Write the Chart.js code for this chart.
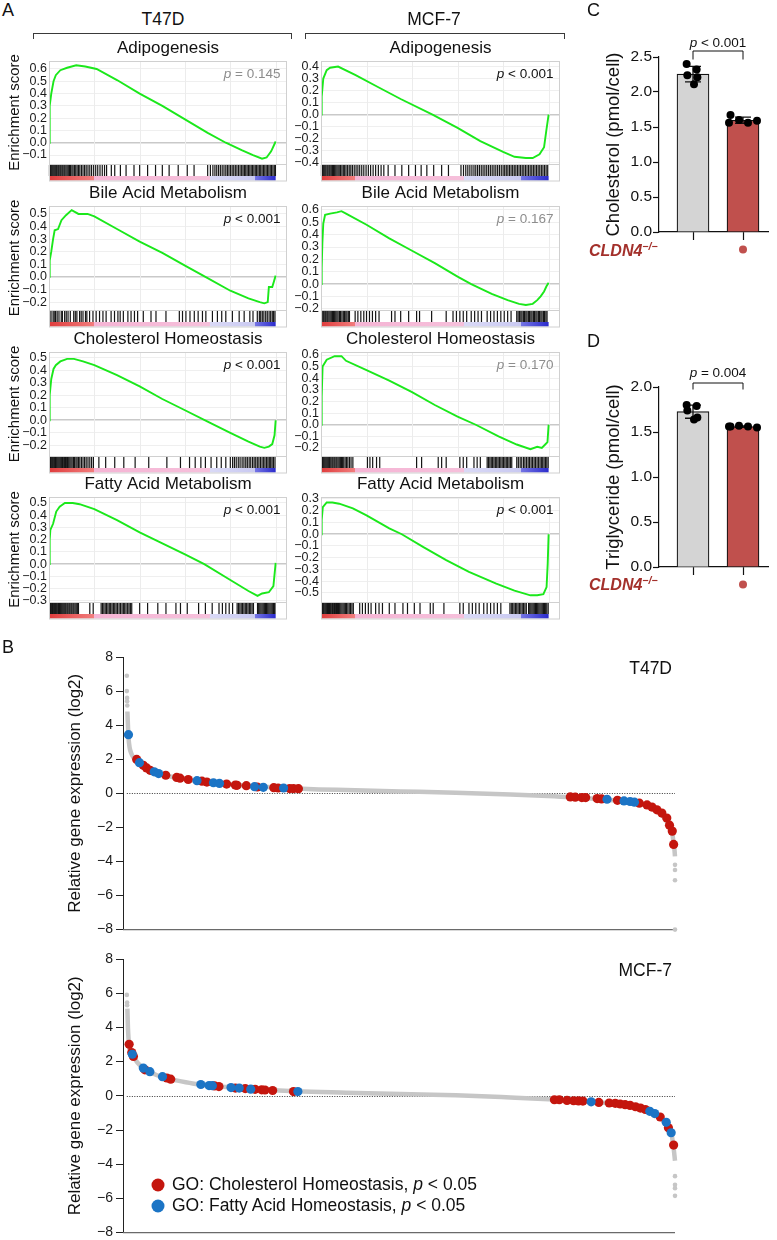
<!DOCTYPE html>
<html>
<head>
<meta charset="utf-8">
<title>CLDN4 lipid metabolism</title>
<script src="https://cdn.jsdelivr.net/npm/chart.js@4.4.1/dist/chart.umd.min.js"></script>
<style>
html, body { margin: 0; padding: 0; background: #fff; }
body { position: relative; width: 777px; height: 1240px; overflow: hidden;
  font-family: "Liberation Sans", Arial, Helvetica, sans-serif; color: #111; }
canvas { position: absolute; }
.t { position: absolute; white-space: nowrap; line-height: 1; }
.mid { transform: translate(-50%, -50%); }
.vmid { transform: translateY(-50%); }
.rmid { transform: translate(-100%, -50%); }
.letter { font-size: 18px; }
.head { font-size: 17.5px; }
.pv { font-size: 13.5px; }
.ns { color: #8d8d8d; }
.brk { position: absolute; height: 5px; border: 1px solid #3a3a3a; border-bottom: none; }
.geno { font-size: 16px; font-weight: bold; font-style: italic; color: #a3302b; }
.geno sup { font-size: 10.5px; vertical-align: 6px; }
.leg { font-size: 17.5px; }
.dot { position: absolute; width: 13px; height: 13px; border-radius: 50%; transform: translate(-50%, -50%); }
</style>
</head>
<body>
<script>
// ---------------- Panel A: GSEA running enrichment score (x = position in ranked list, %) ----------------
const adipoT47D_rank = [0, 0.3, 1, 2, 3, 5, 8, 12, 16, 21, 30, 40, 50, 60, 70, 78, 85, 90, 94, 96, 98, 100];
const adipoT47D_es   = [0, 0.30, 0.40, 0.50, 0.55, 0.59, 0.61, 0.63, 0.62, 0.60, 0.51, 0.40, 0.30, 0.19, 0.08, 0.00, -0.06, -0.10, -0.13, -0.12, -0.07, 0.01];
const adipoMCF7_rank = [0, 0.3, 1, 2.5, 4, 7.5, 15, 25, 35, 49, 60, 70, 80, 85, 90, 93, 96, 98, 99, 100];
const adipoMCF7_es   = [0, 0.15, 0.30, 0.37, 0.39, 0.40, 0.33, 0.23, 0.13, 0, -0.11, -0.22, -0.31, -0.35, -0.36, -0.36, -0.33, -0.27, -0.13, 0];
const bileT47D_rank  = [0, 0.3, 1, 1.8, 2.5, 4, 5.5, 7.5, 10, 13, 17, 20, 30, 40, 50, 60, 69, 80, 88, 93, 95, 96.5, 97, 98.5, 100];
const bileT47D_es    = [0, 0.13, 0.20, 0.30, 0.37, 0.38, 0.45, 0.49, 0.53, 0.50, 0.50, 0.48, 0.38, 0.28, 0.19, 0.09, 0, -0.11, -0.17, -0.20, -0.21, -0.20, -0.08, -0.08, 0.01];
const bileMCF7_rank  = [0, 0.3, 0.6, 1, 1.8, 4, 7, 9, 11, 20, 30, 40, 50, 60, 66, 75, 82, 87, 90, 93, 95, 96.5, 98, 99, 100];
const bileMCF7_es    = [0, 0.13, 0.33, 0.49, 0.56, 0.57, 0.58, 0.59, 0.57, 0.48, 0.37, 0.27, 0.17, 0.06, 0, -0.08, -0.13, -0.16, -0.17, -0.16, -0.13, -0.10, -0.06, -0.02, 0.01];
const cholT47D_rank  = [0, 0.3, 1, 2, 3, 5, 8, 11, 15, 20, 30, 40, 50, 60, 70, 80, 88, 93, 95, 97, 98.5, 99.5, 100];
const cholT47D_es    = [0, 0.20, 0.33, 0.41, 0.44, 0.47, 0.49, 0.49, 0.47, 0.44, 0.36, 0.27, 0.17, 0.08, -0.01, -0.10, -0.17, -0.21, -0.22, -0.21, -0.19, -0.12, 0];
const cholMCF7_rank  = [0, 0.3, 0.7, 2.5, 6, 9, 11, 20, 30, 40, 50, 60, 68, 78, 86, 92, 95, 97, 98.5, 99.5, 100];
const cholMCF7_es    = [0, 0.24, 0.50, 0.56, 0.59, 0.59, 0.55, 0.47, 0.38, 0.28, 0.17, 0.07, 0, -0.10, -0.17, -0.21, -0.19, -0.20, -0.17, -0.15, 0];
const fattyT47D_rank = [0, 0.3, 0.6, 1.8, 3.2, 4.7, 7, 10.5, 13.5, 20, 30, 40, 50, 60, 68.5, 80, 88, 92, 94, 97, 99, 100];
const fattyT47D_es   = [0, 0.20, 0.28, 0.33, 0.43, 0.47, 0.50, 0.50, 0.49, 0.45, 0.36, 0.26, 0.17, 0.08, 0, -0.13, -0.22, -0.26, -0.24, -0.23, -0.18, 0.01];
const fattyMCF7_rank = [0, 0.3, 0.8, 2.5, 5, 8, 14, 20, 30, 35.5, 45, 55, 65, 77, 85, 92, 95, 97.7, 99.1, 99.6, 100];
const fattyMCF7_es   = [0, 0.12, 0.23, 0.27, 0.27, 0.26, 0.22, 0.16, 0.05, 0, -0.11, -0.22, -0.32, -0.42, -0.48, -0.52, -0.52, -0.51, -0.45, -0.25, 0];

// gene-set hits along the ranked list (%)
const adipoT47D_hits = [0.2,0.6,1,1.4,1.8,2.2,2.6,3,3.4,3.9,4.3,4.8,5.2,5.7,6.1,6.6,7,7.5,8,8.5,9,9.5,10.1,10.6,11.2,11.8,12.4,13,13.6,14.3,15,15.7,16.4,17.2,18,18.8,19.7,20.6,21.5,22.5,23.5,24.5,25.4,27.5,29,31.5,34,37.5,40,43.5,47,50,53,57,61,64,70,71.2,72.3,73.2,74,74.8,75.6,76.4,77.2,78,78.7,79.4,80.1,80.8,81.5,82.2,82.9,83.6,84.3,85,85.6,86.2,86.8,87.4,88,88.6,89.2,89.8,90.4,91,91.6,92.2,92.8,93.4,94,94.6,95.2,95.8,96.4,97,97.6,98.2,98.8,99.4,99.9];
const adipoMCF7_hits = [0.2,0.6,1,1.4,1.8,2.2,2.7,3.1,3.6,4,4.5,5,5.5,6,6.5,7,7.5,8,8.6,9.2,9.8,10.4,11,11.7,12.4,13.1,13.8,14.6,15.4,16.2,17,17.9,18.8,19.8,20.8,21.8,22.9,24,25.2,26.4,27.6,29.5,32.5,35.5,38.5,41.5,44,46.5,49.5,53,56,61.5,62.6,63.6,64.5,65.4,66.3,67.2,68,68.8,69.6,70.4,71.2,72,72.8,73.6,74.4,75.2,76,76.8,77.6,78.4,79.2,80,80.7,81.4,82.1,82.8,83.5,84.2,84.9,85.6,86.3,87,87.7,88.4,89.1,89.8,90.5,91.2,91.9,92.6,93.3,94,94.7,95.4,96.1,96.8,97.5,98.2,98.9,99.6];
const bileT47D_hits  = [0.3,0.9,1.8,2.3,2.9,3.6,4.4,5.4,5.9,6.9,7.6,8.4,9.4,10.9,11.6,12.3,13.5,14.2,15,16.1,16.7,17.9,19.4,20.8,22.3,23.8,25.2,27.4,28.9,30.4,31.4,32.8,34.8,36.2,37.7,39.1,41.6,45,47.2,51.6,57.5,58.9,60.4,62.2,64.1,65.8,67.7,69.2,72.1,74.3,76.2,78,80.9,83.9,86.1,88.6,90,91.9,92.8,93.4,94.1,94.8,95.6,96.3,97.1,97.8,98.5,99.1,99.7];
const bileMCF7_hits  = [0.3,0.8,1.2,1.7,2.1,2.6,3,3.5,4,4.5,5,5.5,6,6.5,7,7.5,8.1,8.6,9.2,9.8,10.3,10.9,11.4,12,12.5,15,16.2,17.5,18.8,20,21.3,22.6,24,25.5,31,32.5,35,38.5,42,43.3,48.6,55,58,59.5,61,62.5,64,66,67.5,69,70.5,73,74.5,76,77.5,79,80.5,82,83.5,86,86.6,87.2,87.8,88.3,88.9,89.4,90,90.5,91.1,91.6,92.2,92.7,93.3,93.8,94.4,94.9,95.5,96,96.6,97.1,97.7,98.2,98.8,99.3];
const cholT47D_hits  = [0.3,0.7,1,1.4,1.7,2.1,2.5,2.9,3.2,3.6,4,4.4,4.8,5.2,5.6,6,6.5,6.9,7.3,7.8,8.2,8.7,9.2,9.7,10.2,10.8,11.3,11.9,12.4,13,13.6,14.3,15,15.7,16.4,17.2,18,18.8,19.6,22,25,29,33,38,44,52,58,62,64.5,67,69,71.5,74,76,78,80,81,81.8,82.6,83.5,84.3,85.2,86,86.8,87.5,88.3,89,89.8,90.5,91.2,91.9,92.6,93.3,94,94.7,95.3,96,96.6,97.2,97.8,98.4,99,99.7];
const cholMCF7_hits  = [0.3,0.6,1,1.4,1.8,2.2,2.6,3,3.4,3.8,4.3,4.8,5.2,5.7,6.1,6.6,7,7.5,8,8.5,9,9.5,10,10.6,11.2,11.8,12.5,13.2,14,20.4,21.5,22.7,24.4,25.8,42,44.2,51.5,53,55,61,62.5,64,67.2,68.6,70,73,73.6,74.2,74.8,75.4,76,76.6,77.2,77.8,78.4,79,79.6,80.2,80.8,81.4,82,82.6,83.2,83.8,86,86.7,87.5,88.2,89,89.6,90.3,91,91.6,92.3,92.9,93.6,94.2,94.9,95.5,96.2,96.8,97.4,98,98.6,99.2,99.8];
const fattyT47D_hits = [0.3,0.6,0.9,1.2,1.5,1.8,2.1,2.5,2.8,3.2,3.5,3.9,4.2,4.6,5,5.4,5.8,6.2,6.6,7,7.4,7.9,8.3,8.8,9.2,9.7,10.1,10.6,11,11.5,12,12.5,13,18,19.5,23,23.6,24.2,24.8,25.4,26,26.6,27.2,27.8,28.4,29,29.6,30.2,30.9,31.5,32.2,32.8,33.4,34,34.7,35.3,35.9,36.5,40,43.5,48,51.6,56,58,61,66,69,72,75,76.5,78,79.5,81,83,83.6,84.2,84.8,85.4,86,86.6,87.2,87.8,88.4,89,89.6,90.2,92,92.5,93,93.5,94,94.5,95,95.5,96,96.5,97,97.5,98,98.5,99,99.4,99.7];
const fattyMCF7_hits = [0.3,0.6,1,1.3,1.7,2.1,2.5,2.9,3.3,3.7,4.1,4.5,5,5.4,5.9,6.3,6.8,7.2,7.7,8.2,8.7,9.2,9.7,10.2,10.7,11.2,11.8,12.4,13,13.6,14.2,17,18.2,19.5,20.8,22,24,25.5,27,30,32.5,36,38,41,43.5,48,49.3,54,61,62.5,65,66.5,68,69.5,71.5,73,74.5,76,77.5,79,83,83.6,84.2,84.8,85.4,86,86.6,87.2,87.8,88.4,89,89.6,90.2,91.2,91.7,92.2,92.7,93.2,93.7,94.2,94.7,95.2,95.7,96.2,96.7,97.2,97.7,98.2,98.7,99.2,99.8];

// ranked-list colour bar boundaries (% of list): red | pink | lavender | blue
const rankBarT47D = [20, 71, 91];
const rankBarMCF7 = [15, 63, 88];

// ---------------- Panels C, D: lipid content per cell ----------------
const cholWT = [2.40, 2.32, 2.24, 2.21, 2.11];
const cholKO = [1.67, 1.60, 1.56, 1.56, 1.59];
const trigWT = [1.80, 1.79, 1.74, 1.66, 1.64];
const trigKO = [1.56, 1.57, 1.56, 1.56, 1.55];
const knockout = [0, 1];

// ---------------- Panel B: waterfall of relative expression (x = rank %, y = log2) ----------------
const t47dCurveRank = [0.1, 0.2, 0.3, 0.5, 0.8, 1.2, 1.8, 2.5, 3.5, 5, 7, 9, 12, 15, 20, 25, 30, 35, 40, 50, 60, 70, 78, 83, 87, 90, 92.5, 94.5, 96, 97.2, 98.2, 98.9, 99.4, 99.7, 99.9, 100];
const t47dCurveVal  = [4.8, 4.0, 3.3, 2.7, 2.35, 2.1, 1.9, 1.72, 1.55, 1.28, 1.06, 0.92, 0.76, 0.63, 0.49, 0.38, 0.29, 0.23, 0.19, 0.11, 0.03, -0.07, -0.18, -0.26, -0.36, -0.45, -0.55, -0.68, -0.9, -1.15, -1.5, -1.9, -2.15, -2.8, -3.3, -3.7];
const t47dOutRank = [0, 0, 0.05, 0.05, 0.08, 100, 100, 100, 100];
const t47dOutVal  = [6.9, 6.0, 5.6, 5.4, 5.15, -4.2, -4.5, -5.1, -8.0];
const t47dCholRank = [1.8, 3.0, 3.6, 4.25, 7.1, 9.1, 9.7, 11.2, 13.7, 14.6, 18.2, 19.8, 20.1, 21.8, 23.8, 26.8, 27.6, 29.7, 30.4, 31.3, 80.9, 81.8, 83.0, 83.7, 85.8, 86.6, 89.5, 93.5, 94.9, 95.8, 96.7, 97.6, 98.5, 99.0, 99.5, 99.75];
const t47dCholVal  = [1.99, 1.64, 1.49, 1.35, 1.06, 0.93, 0.89, 0.81, 0.71, 0.66, 0.54, 0.48, 0.47, 0.45, 0.37, 0.33, 0.31, 0.28, 0.28, 0.27, -0.21, -0.23, -0.25, -0.25, -0.31, -0.33, -0.41, -0.58, -0.68, -0.81, -0.97, -1.16, -1.45, -1.87, -2.22, -3.0];
const t47dFattyRank = [0.3, 2.3, 5.0, 5.8, 12.8, 15.8, 16.9, 23.3, 24.9, 28.6, 87.6, 90.7, 91.8, 92.6];
const t47dFattyVal  = [3.44, 1.80, 1.26, 1.16, 0.74, 0.62, 0.58, 0.39, 0.35, 0.31, -0.35, -0.45, -0.48, -0.52];

const mcfCurveRank = [0.1, 0.2, 0.4, 0.7, 1, 1.5, 2, 3, 4, 5.5, 7, 9, 12, 15, 18, 22, 26, 31, 40, 50, 60, 70, 78, 82, 86, 89, 91.5, 93.5, 95.5, 97, 98, 98.8, 99.3, 99.6, 99.8, 100];
const mcfCurveVal  = [5.1, 4.0, 3.0, 2.6, 2.4, 2.15, 1.92, 1.62, 1.43, 1.2, 1.04, 0.9, 0.72, 0.6, 0.51, 0.42, 0.35, 0.26, 0.18, 0.1, 0.03, -0.1, -0.22, -0.3, -0.39, -0.46, -0.55, -0.7, -0.9, -1.2, -1.5, -1.85, -2.15, -2.7, -3.2, -3.8];
const mcfOutRank = [0, 0.05, 0.05, 100, 100, 100, 100];
const mcfOutVal  = [5.9, 5.45, 5.3, -4.7, -5.2, -5.4, -5.85];
const mcfCholRank = [0.42, 0.9, 1.2, 3.3, 7.3, 8.0, 16.0, 16.8, 19.8, 21.6, 23.4, 24.6, 25.2, 26.6, 30.4, 78.0, 78.9, 80.3, 81.5, 82.4, 83.2, 86.1, 88.0, 89.1, 90.0, 90.9, 91.8, 92.8, 93.7, 94.6, 97.3, 98.8, 99.75];
const mcfCholVal  = [3.01, 2.53, 2.30, 1.52, 1.04, 0.97, 0.58, 0.54, 0.45, 0.42, 0.38, 0.35, 0.34, 0.31, 0.25, -0.23, -0.23, -0.27, -0.29, -0.30, -0.31, -0.39, -0.42, -0.44, -0.48, -0.52, -0.56, -0.64, -0.72, -0.80, -1.24, -1.87, -2.88];
const mcfFattyRank = [1.0, 3.0, 4.2, 6.5, 13.5, 15.0, 15.6, 19.0, 20.5, 22.6, 31.2, 84.7, 95.4, 96.3, 98.4, 99.3];
const mcfFattyVal  = [2.43, 1.62, 1.41, 1.12, 0.66, 0.60, 0.59, 0.48, 0.45, 0.39, 0.25, -0.35, -0.91, -1.04, -1.55, -2.16];

const RED = '#c4160e', BLUE = '#1b74c5', GREY = '#c6c6c6', KO_RED = '#c0504d';

Chart.defaults.font.family = '"Liberation Sans", Arial, Helvetica, sans-serif';
Chart.defaults.color = '#111';

function mk(left, top, w, h) {
  const c = document.createElement('canvas');
  c.width = w; c.height = h;
  c.style.left = left + 'px'; c.style.top = top + 'px';
  c.style.width = w + 'px'; c.style.height = h + 'px';
  document.body.appendChild(c);
  return c;
}
function txt(html, x, y, cls) {
  const d = document.createElement('div');
  d.className = 't ' + (cls || '');
  d.innerHTML = html;
  d.style.left = x + 'px'; d.style.top = y + 'px';
  document.body.appendChild(d);
  return d;
}
const pts = (xs, ys) => xs.map((v, i) => ({ x: v, y: ys[i] }));
const fmt = d => v => {
  const a = Math.abs(v) < 1e-9 ? 0 : v;
  return (a < 0 ? '\u2212' : '') + Math.abs(a).toFixed(d);
};
const mean = a => a.reduce((s, v) => s + v, 0) / a.length;
const sd = a => { const m = mean(a); return Math.sqrt(a.reduce((s, v) => s + (v - m) ** 2, 0) / (a.length - 1)); };

// ---------- GSEA panels ----------
const gridRanks = [20, 40, 60, 80, 100];

function gseaDecor(hits, bar) {
  return {
    id: 'gseaDecor',
    beforeDatasetsDraw(chart) {
      const { ctx, chartArea: a, scales: { x } } = chart;
      ctx.save();
      ctx.strokeStyle = '#ececec'; ctx.lineWidth = 1;
      gridRanks.forEach(v => {
        const px = Math.round(x.getPixelForValue(v)) + 0.5;
        ctx.beginPath(); ctx.moveTo(px, a.top); ctx.lineTo(px, a.bottom); ctx.stroke();
      });
      ctx.restore();
    },
    afterDraw(chart) {
      const { ctx, chartArea: a, scales: { x } } = chart;
      const hTop = a.bottom, hBot = a.bottom + 12, cBot = hBot + 4.5;
      ctx.save();
      ctx.strokeStyle = '#151515'; ctx.lineWidth = 1.2;
      hits.forEach(v => {
        const px = x.getPixelForValue(v);
        ctx.beginPath(); ctx.moveTo(px, hTop + 1); ctx.lineTo(px, hBot); ctx.stroke();
      });
      const x0 = x.getPixelForValue(0), x1 = x.getPixelForValue(100);
      const g = ctx.createLinearGradient(x0, 0, x1, 0);
      const [r, p, l] = bar.map(v => v / 100);
      g.addColorStop(0, '#df3c3c');
      g.addColorStop(r - 0.002, '#f27d7d');
      g.addColorStop(r, '#f5b4d4');
      g.addColorStop(p - 0.002, '#f6c0db');
      g.addColorStop(p, '#d9d9f6');
      g.addColorStop(l - 0.002, '#c9c9f1');
      g.addColorStop(l, '#7474e4');
      g.addColorStop(1, '#2b2bcc');
      ctx.fillStyle = g;
      ctx.fillRect(x0, hBot, x1 - x0, cBot - hBot);
      ctx.strokeStyle = '#d0d0d0'; ctx.lineWidth = 1;
      ctx.strokeRect(a.left + 0.5, a.top + 0.5, a.right - a.left - 1, cBot - a.top);
      ctx.beginPath(); ctx.moveTo(a.left, hTop + 0.5); ctx.lineTo(a.right, hTop + 0.5); ctx.stroke();
      ctx.restore();
    }
  };
}

const colLeft = [0, 290], colW = [290, 275], axisW = [49, 31], padR = [3, 5];
const rowTop = [61, 206, 352, 497], esH = [103, 104, 104, 105];

const gseaPanels = [
  { col: 0, row: 0, title: 'Adipogenesis', rank: adipoT47D_rank, es: adipoT47D_es, hits: adipoT47D_hits, min: -0.173, max: 0.665, p: '= 0.145', sig: false },
  { col: 1, row: 0, title: 'Adipogenesis', rank: adipoMCF7_rank, es: adipoMCF7_es, hits: adipoMCF7_hits, min: -0.41, max: 0.446, p: '&lt; 0.001', sig: true },
  { col: 0, row: 1, title: 'Bile Acid Metabolism', rank: bileT47D_rank, es: bileT47D_es, hits: bileT47D_hits, min: -0.263, max: 0.563, p: '&lt; 0.001', sig: true },
  { col: 1, row: 1, title: 'Bile Acid Metabolism', rank: bileMCF7_rank, es: bileMCF7_es, hits: bileMCF7_hits, min: -0.21, max: 0.632, p: '= 0.167', sig: false },
  { col: 0, row: 2, title: 'Cholesterol Homeostasis', rank: cholT47D_rank, es: cholT47D_es, hits: cholT47D_hits, min: -0.285, max: 0.545, p: '&lt; 0.001', sig: true },
  { col: 1, row: 2, title: 'Cholesterol Homeostasis', rank: cholMCF7_rank, es: cholMCF7_es, hits: cholMCF7_hits, min: -0.269, max: 0.626, p: '= 0.170', sig: false },
  { col: 0, row: 3, title: 'Fatty Acid Metabolism', rank: fattyT47D_rank, es: fattyT47D_es, hits: fattyT47D_hits, min: -0.31, max: 0.549, p: '&lt; 0.001', sig: true },
  { col: 1, row: 3, title: 'Fatty Acid Metabolism', rank: fattyMCF7_rank, es: fattyMCF7_es, hits: fattyMCF7_hits, min: -0.577, max: 0.317, p: '&lt; 0.001', sig: true }
];

gseaPanels.forEach(pn => {
  const c = pn.col, top = rowTop[pn.row] - 23, h = 23 + esH[pn.row] + 18;
  const cv = mk(colLeft[c], top, colW[c], h);
  new Chart(cv, {
    type: 'line',
    data: { datasets: [{ data: pts(pn.rank, pn.es), borderColor: '#1be81b', borderWidth: 1.9, pointRadius: 0, tension: 0 }] },
    options: {
      responsive: false, animation: false, events: [],
      layout: { padding: { top: 0, right: padR[c], bottom: 18, left: 0 } },
      plugins: {
        legend: { display: false }, tooltip: { enabled: false },
        title: { display: true, text: pn.title, fullSize: false, color: '#111',
                 font: { size: 17, weight: 'normal' }, padding: { top: 0, bottom: 2.6 } }
      },
      scales: {
        x: { type: 'linear', min: 0, max: 105, display: false },
        y: {
          min: pn.min, max: pn.max,
          afterFit: s => { s.width = axisW[c]; },
          ticks: { stepSize: 0.1, autoSkip: false, includeBounds: false, padding: 2,
                   font: { size: 12.5 }, color: '#1a1a1a', callback: fmt(1) },
          grid: { drawTicks: false,
                  color: ctx => Math.abs(ctx.tick.value) < 1e-9 ? '#c9c9c9' : '#efefef',
                  lineWidth: ctx => Math.abs(ctx.tick.value) < 1e-9 ? 1.6 : 1 },
          border: { display: false },
          title: { display: c === 0, text: 'Enrichment score', color: '#111',
                   font: { size: 15 }, padding: { top: 6, bottom: 0 } }
        }
      }
    },
    plugins: [gseaDecor(pn.hits, c === 0 ? rankBarT47D : rankBarMCF7)]
  });
  const right = colLeft[c] + colW[c] - padR[c];
  txt('<i>p</i> ' + pn.p, right - 6.5, rowTop[pn.row] + 13, 'pv rmid' + (pn.sig ? '' : ' ns'));
});

// ---------- Bar panels C and D ----------
const jitWT = [-0.127, 0.073, -0.113, 0.087, 0.02];
const jitKO = [-0.25, -0.08, -0.28, 0.1, 0.28];

function barDecor(groups, bracketDy) {
  return {
    id: 'barDecor',
    afterDatasetDraw(chart, args) {
      if (args.index !== 0) return;
      const { ctx, scales: { x, y } } = chart;
      ctx.save();
      ctx.strokeStyle = '#111'; ctx.lineWidth = 1.3;
      groups.forEach((vals, i) => {
        const m = mean(vals), s = sd(vals), px = x.getPixelForValue(i);
        const yt = y.getPixelForValue(m + s), yb = y.getPixelForValue(m - s);
        ctx.beginPath();
        ctx.moveTo(px, yt); ctx.lineTo(px, yb);
        ctx.moveTo(px - 8, yt); ctx.lineTo(px + 8, yt);
        ctx.moveTo(px - 8, yb); ctx.lineTo(px + 8, yb);
        ctx.stroke();
      });
      ctx.restore();
    },
    afterDraw(chart) {
      const { ctx, chartArea: a, scales: { x } } = chart;
      const x0 = x.getPixelForValue(0), x1 = x.getPixelForValue(1), by = a.top + bracketDy;
      ctx.save();
      ctx.strokeStyle = '#111'; ctx.lineWidth = 1;
      ctx.beginPath();
      ctx.moveTo(x0, a.top + 2.5); ctx.lineTo(x0, by); ctx.lineTo(x1, by); ctx.lineTo(x1, a.top + 2.5);
      ctx.stroke();
      ctx.fillStyle = KO_RED;
      knockout.forEach((k, i) => {
        if (!k) return;
        ctx.beginPath(); ctx.arc(x.getPixelForValue(i), a.bottom + 17.5, 4, 0, Math.PI * 2); ctx.fill();
      });
      ctx.restore();
    }
  };
}

function barPanel(top, h, wt, ko, yMax, yTitle, bracketDy) {
  const cv = mk(590, top, 187, h);
  new Chart(cv, {
    type: 'bar',
    data: {
      datasets: [
        { type: 'bar', data: [{ x: 0, y: mean(wt) }, { x: 1, y: mean(ko) }],
          backgroundColor: ['#d4d4d4', KO_RED], borderColor: '#111', borderWidth: 1.2,
          borderSkipped: 'bottom', barThickness: 32, order: 2 },
        { type: 'scatter', data: wt.map((v, i) => ({ x: jitWT[i], y: v })).concat(ko.map((v, i) => ({ x: 1 + jitKO[i], y: v }))),
          backgroundColor: '#000', borderWidth: 0, pointRadius: 4, order: 1, clip: false }
      ]
    },
    options: {
      responsive: false, animation: false, events: [],
      layout: { padding: { top: 27, right: 9, bottom: 0, left: 0 } },
      plugins: { legend: { display: false }, tooltip: { enabled: false } },
      scales: {
        x: { type: 'linear', min: -0.68, max: 1.5, offset: false,
             afterFit: s => { s.height = 22; },
             ticks: { stepSize: 1, includeBounds: false, callback: () => '' },
             grid: { offset: false, drawOnChartArea: false, tickLength: 8, tickWidth: 1.2, tickColor: '#111' },
             border: { color: '#111', width: 1.2 } },
        y: { min: 0, max: yMax,
             afterFit: s => { s.width = 69; },
             ticks: { stepSize: 0.5, padding: 1, font: { size: 15.5 }, color: '#111', callback: fmt(1) },
             grid: { drawOnChartArea: false, tickLength: 6, tickWidth: 1.2, tickColor: '#111' },
             border: { color: '#111', width: 1.2 },
             title: { display: true, text: yTitle, color: '#111', font: { size: 18.5 }, padding: { top: 13, bottom: 0 } } }
      }
    },
    plugins: [barDecor([wt, ko], bracketDy)]
  });
}
barPanel(30, 224, cholWT, cholKO, 2.5, 'Cholesterol (pmol/cell)', -6);
barPanel(360, 229, trigWT, trigKO, 2.0, 'Triglyceride (pmol/cell)', -4);

// ---------- Waterfall panels (B) ----------
function waterDecor() {
  return {
    id: 'waterDecor',
    beforeDatasetsDraw(chart) {
      const { ctx, chartArea: a, scales: { x, y } } = chart;
      const y0 = Math.round(y.getPixelForValue(0)) + 0.5;
      ctx.save();
      ctx.strokeStyle = '#333'; ctx.lineWidth = 1; ctx.setLineDash([1, 1.5]);
      ctx.beginPath(); ctx.moveTo(x.getPixelForValue(0), y0); ctx.lineTo(a.right, y0); ctx.stroke();
      ctx.setLineDash([]);
      ctx.strokeStyle = '#6a6a6a'; ctx.lineWidth = 1.3;
      ctx.beginPath(); ctx.moveTo(a.left, a.bottom); ctx.lineTo(a.right, a.bottom); ctx.stroke();
      ctx.restore();
    }
  };
}

function waterfall(top, h, padB, curveR, curveV, outR, outV, cholR, cholV, fatR, fatV) {
  const cv = mk(0, top, 777, h);
  new Chart(cv, {
    type: 'scatter',
    data: {
      datasets: [
        { data: pts(curveR, curveV), showLine: true, borderColor: GREY, borderWidth: 4.5,
          pointRadius: 0, cubicInterpolationMode: 'monotone', order: 4, clip: false },
        { data: pts(outR, outV), backgroundColor: GREY, borderWidth: 0, pointRadius: 2.3, order: 3, clip: false },
        { data: pts(cholR, cholV), backgroundColor: RED, borderWidth: 0, pointRadius: 4.6, order: 2, clip: false },
        { data: pts(fatR, fatV), backgroundColor: BLUE, borderWidth: 0, pointRadius: 4.6, order: 1, clip: false }
      ]
    },
    options: {
      responsive: false, animation: false, events: [],
      layout: { padding: { top: 12, right: 102, bottom: padB, left: 0 } },
      plugins: { legend: { display: false }, tooltip: { enabled: false } },
      scales: {
        x: { type: 'linear', min: -0.7, max: 100, display: false },
        y: { min: -8, max: 8,
             afterFit: s => { s.width = 123; },
             ticks: { stepSize: 2, padding: 3, font: { size: 14 }, color: '#1a1a1a', callback: fmt(0) },
             grid: { drawOnChartArea: false, tickLength: 7, tickColor: '#222' },
             border: { color: '#222', width: 1 },
             title: { display: true, text: 'Relative gene expression (log2)', color: '#111',
                      font: { size: 17 }, padding: { top: 65, bottom: 0 } } }
      }
    },
    plugins: [waterDecor()]
  });
}
waterfall(645, 296, 8, t47dCurveRank, t47dCurveVal, t47dOutRank, t47dOutVal, t47dCholRank, t47dCholVal, t47dFattyRank, t47dFattyVal);
waterfall(947, 297, 9, mcfCurveRank, mcfCurveVal, mcfOutRank, mcfOutVal, mcfCholRank, mcfCholVal, mcfFattyRank, mcfFattyVal);

// ---------- text & annotations ----------
txt('A', 2, 10, 'letter vmid');
txt('B', 2, 647, 'letter vmid');
txt('C', 587, 10, 'letter vmid');
txt('D', 587, 341, 'letter vmid');
txt('T47D', 163, 20, 'head mid');
txt('MCF-7', 434, 19.5, 'head mid');
[[33, 292], [305, 565]].forEach(([l, r]) => {
  const b = document.createElement('div');
  b.className = 'brk';
  b.style.left = l + 'px'; b.style.top = '33px'; b.style.width = (r - l - 2) + 'px';
  document.body.appendChild(b);
});
txt('<i>p</i> &lt; 0.001', 718, 43, 'pv mid');
txt('<i>p</i> = 0.004', 718, 373, 'pv mid');
txt('CLDN4<sup>\u2212/\u2212</sup>', 589, 250, 'geno vmid');
txt('CLDN4<sup>\u2212/\u2212</sup>', 589, 584, 'geno vmid');
txt('T47D', 672, 669, 'head rmid');
txt('MCF-7', 672, 971, 'head rmid');
[[RED, 1185, 'GO: Cholesterol Homeostasis, <i>p</i> &lt; 0.05'], [BLUE, 1205.7, 'GO: Fatty Acid Homeostasis, <i>p</i> &lt; 0.05']].forEach(([col, y, label]) => {
  const d = document.createElement('div');
  d.className = 'dot'; d.style.background = col;
  d.style.left = '158px'; d.style.top = y + 'px';
  document.body.appendChild(d);
  txt(label, 172, y, 'leg vmid');
});
</script>
</body>
</html>
